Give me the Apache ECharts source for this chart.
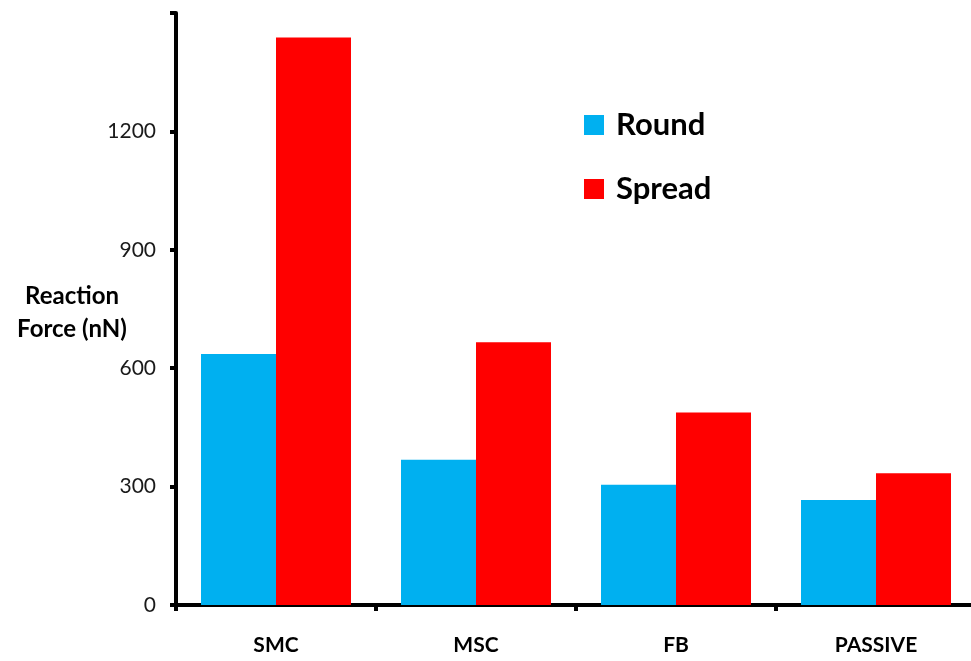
<!DOCTYPE html>
<html>
<head>
<meta charset="utf-8">
<script src="https://cdn.jsdelivr.net/npm/echarts@6/dist/echarts.min.js"></script>
<style>html,body{margin:0;padding:0;background:#fff}#c{width:971px;height:661px}</style>
</head>
<body>
<div id="c"></div>
<script>
const categories = ['SMC', 'MSC', 'FB', 'PASSIVE'];
const roundValues = [636, 368, 305, 266];
const spreadValues = [1438, 666, 488, 334];
const seriesNames = ['Round', 'Spread'];
const yTicks = [0, 300, 600, 900, 1200, 1500];
const yTitle = 'Reaction\nForce (nN)';

const chart = echarts.init(document.getElementById('c'));
const FONT = 'Lato';
chart.setOption({
  animation: false,
  backgroundColor: '#ffffff',
  grid: { left: 176, width: 800, top: 13, height: 592, containLabel: false, outerBoundsMode: 'none' },
  legend: {
    orient: 'vertical',
    left: 579,
    top: 104.5,
    itemWidth: 20,
    itemHeight: 20,
    itemGap: 33,
    icon: 'rect',
    data: seriesNames,
    textStyle: { fontFamily: FONT, fontWeight: 'bold', fontSize: 31, lineHeight: 30, color: '#000', padding: [0, 0, 0, 7] }
  },
  graphic: [{
    type: 'text',
    x: 72,
    y: 280,
    style: {
      text: yTitle,
      fontFamily: FONT,
      fontWeight: 'bold',
      fontSize: 24,
      lineHeight: 33,
      fill: '#000',
      align: 'center',
      verticalAlign: 'top'
    }
  }],
  xAxis: {
    type: 'category',
    data: categories,
    axisLine: { lineStyle: { color: '#000', width: 4 } },
    axisTick: { show: true, length: 6, lineStyle: { color: '#000', width: 4 } },
    axisLabel: { fontFamily: FONT, fontWeight: 'bold', fontSize: 21, color: '#000', margin: 30 },
    splitLine: { show: false }
  },
  yAxis: {
    type: 'value',
    min: yTicks[0],
    max: yTicks[yTicks.length - 1],
    interval: yTicks[1] - yTicks[0],
    axisLine: { show: true, lineStyle: { color: '#000', width: 4, cap: 'round' } },
    axisTick: { show: true, length: 6, lineStyle: { color: '#000', width: 4 } },
    axisLabel: {
      fontFamily: FONT, fontSize: 21, color: '#1a1a1a', margin: 20,
      formatter: v => (v === yTicks[yTicks.length - 1] ? '' : String(v))
    },
    splitLine: { show: false }
  },
  series: [
    { name: seriesNames[0], type: 'bar', data: roundValues, barGap: '0%', barCategoryGap: '25%', itemStyle: { color: '#00B0F0' } },
    { name: seriesNames[1], type: 'bar', data: spreadValues, barGap: '0%', barCategoryGap: '25%', itemStyle: { color: '#FF0000' } }
  ]
});
</script>
</body>
</html>
